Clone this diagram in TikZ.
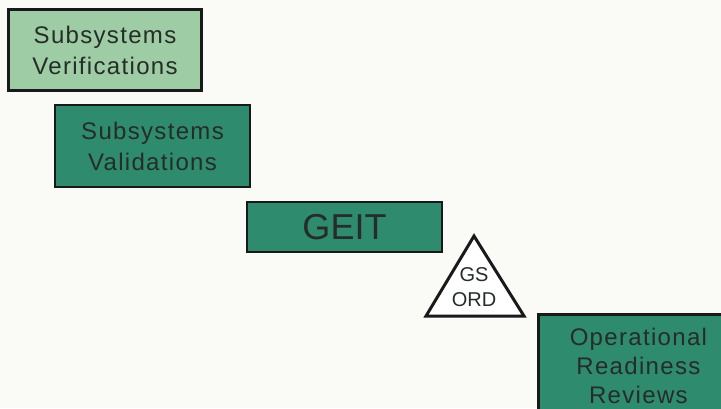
\documentclass[tikz,border=0pt]{standalone}
\usepackage{fontspec}
\setmainfont{Liberation Sans}
\newfontfamily\boxfont[LetterSpace=5.5]{Liberation Sans}
\definecolor{lightg}{RGB}{158,204,164}
\definecolor{darkg}{RGB}{46,139,110}
\definecolor{bgc}{RGB}{250,250,247}
\definecolor{txt}{RGB}{38,44,40}
\definecolor{edge}{RGB}{25,25,25}
\begin{document}
\begin{tikzpicture}[x=1pt,y=-1pt,
  box/.style={draw=edge, line width=2.8pt, inner sep=0pt, align=center, text=txt},
  lbl/.style={font=\boxfont\fontsize{24}{31}\selectfont},
  tri/.style={draw=edge, line width=3pt, fill=white, line join=miter}]
\useasboundingbox (0,0) rectangle (721,408);
\clip (0,0) rectangle (721,408);
\fill[bgc] (0,0) rectangle (721,408);
\node[box, lbl, fill=lightg, minimum width=193pt, minimum height=81pt] (sv) at (105,50) {Subsystems\\Verifications};
\node[box, lbl, fill=darkg, minimum width=195pt, minimum height=82pt] (sval) at (152.5,146) {Subsystems\\Validations};
\node[box, fill=darkg, minimum width=195pt, minimum height=50pt, font=\fontsize{36}{40}\selectfont] (geit) at (344.5,227) {GEIT};
\coordinate (ta) at (474,236);
\coordinate (tl) at (426,316);
\coordinate (tr) at (524,316);
\draw[tri] (ta) -- (tl) -- (tr) -- cycle;
\node[text=txt, align=center, inner sep=0pt, font=\fontsize{20}{25}\selectfont] (gs) at (474,287) {GS\\ORD};
\node[box, fill=darkg, minimum width=200pt, minimum height=104pt, anchor=north west, font=\boxfont\fontsize{24}{29}\selectfont] (orr) at (537,313) {Operational\\Readiness\\Reviews};
\end{tikzpicture}
\end{document}
